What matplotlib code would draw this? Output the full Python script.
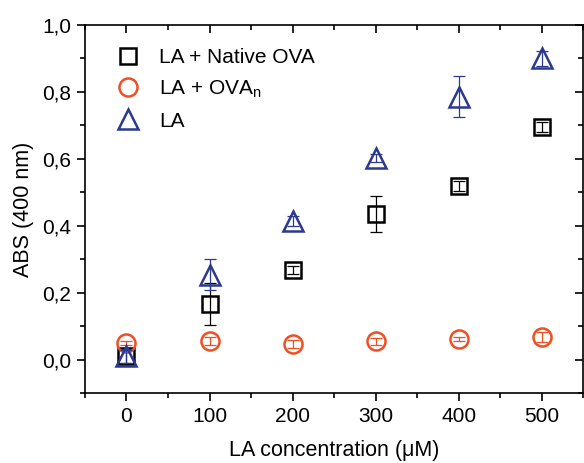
import matplotlib
matplotlib.use("Agg")
import matplotlib.pyplot as plt
from matplotlib import markers
from matplotlib.ticker import FuncFormatter, MultipleLocator

plt.rcParams['font.family'] = ['Liberation Sans', 'DejaVu Sans']
plt.rcParams['mathtext.fontset'] = 'custom'
plt.rcParams['mathtext.rm'] = 'Liberation Sans'

conc = [0, 100, 200, 300, 400, 500]

# LA + Native OVA
native = [0.01, 0.167, 0.267, 0.435, 0.52, 0.696]
native_err = [0.02, 0.063, 0.012, 0.055, 0.015, 0.015]
# LA + OVAn
ovan = [0.05, 0.056, 0.047, 0.055, 0.062, 0.069]
ovan_err = [0.005, 0.012, 0.012, 0.01, 0.005, 0.015]
# LA
la = [0.01, 0.254, 0.413, 0.603, 0.786, 0.90]
la_err = [0.02, 0.046, 0.015, 0.012, 0.062, 0.022]

black = '#000000'
red = '#F04E23'
blue = '#2B3990'

fig = plt.figure(figsize=(5.84, 4.63), dpi=100)
ax = fig.add_axes([0.1455, 0.151, 0.853, 0.795])

series = [
    (native, native_err, 's', 11.5, black, 'LA + Native OVA', 3),
    (ovan, ovan_err, 'o', 13, red, 'LA + OVA$_\\mathregular{n}$', 4),
    (la, la_err, '^', 14.5, blue, 'LA', 5),
]
for vals, err, mk, ms, col, lab, z in series:
    ax.errorbar(conc, vals, yerr=err, fmt='none', ecolor=col, elinewidth=0.9,
                capsize=4, capthick=0.9, zorder=z)
    ax.plot(conc, vals, mk, ms=ms, mfc='none', mec=col, mew=1.8, label=lab, zorder=z)

ax.set_xlim(-50, 550)
ax.set_ylim(-0.1, 1.0)
ax.xaxis.set_major_locator(MultipleLocator(100))
ax.xaxis.set_minor_locator(MultipleLocator(50))
ax.yaxis.set_major_locator(MultipleLocator(0.2))
ax.yaxis.set_minor_locator(MultipleLocator(0.1))
ax.yaxis.set_major_formatter(FuncFormatter(lambda v, p: ('%.1f' % v).replace('.', ',')))

ax.tick_params(which='both', top=True, right=True, labelsize=15, width=1.2,
               direction='out', pad=4)
ax.tick_params(which='major', length=6)
ax.tick_params(which='minor', length=3.5)
# top and right ticks point into the axes
for t in ax.xaxis.get_ticklines(minor=False)[1::2] + ax.xaxis.get_ticklines(minor=True)[1::2]:
    t.set_marker(markers.TICKDOWN)
for t in ax.yaxis.get_ticklines(minor=False)[1::2] + ax.yaxis.get_ticklines(minor=True)[1::2]:
    t.set_marker(markers.TICKLEFT)
for s in ax.spines.values():
    s.set_linewidth(1.2)

ax.set_xlabel('LA concentration (\u03bcM)', fontsize=15.5, labelpad=10)
ax.set_ylabel('ABS (400 nm)', fontsize=15.5, labelpad=6)

ax.legend(loc='upper left', bbox_to_anchor=(0.048, 0.96), borderaxespad=0,
          frameon=False, fontsize=15, handlelength=1.0, handletextpad=1.0,
          labelspacing=0.55)

fig.savefig('out.png', dpi=100)
